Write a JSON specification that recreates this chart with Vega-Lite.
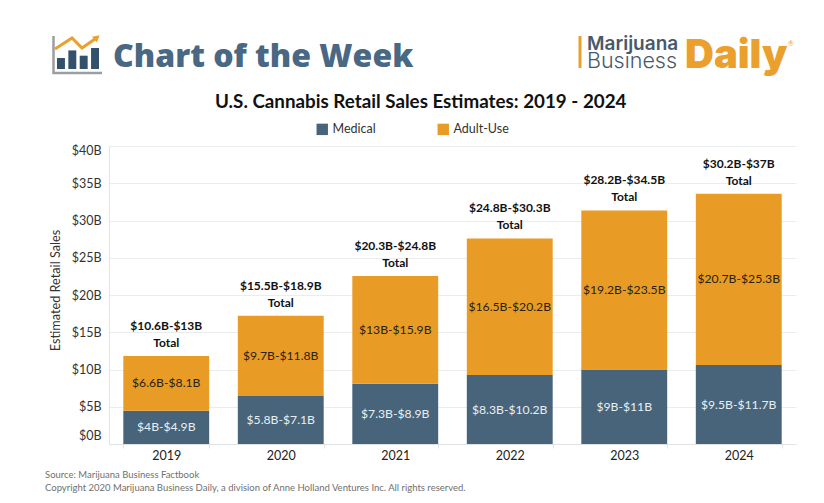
{
  "$schema": "https://vega.github.io/schema/vega-lite/v6.json",
  "width": 687,
  "height": 298,
  "autosize": {"type": "none"},
  "padding": {"left": 109, "top": 146, "right": 28, "bottom": 59},
  "background": "white",
  "config": {"font": "Lato", "view": {"stroke": null}},
  "title": {
    "text": "U.S. Cannabis Retail Sales Estimates: 2019 - 2024",
    "anchor": "start",
    "frame": "group",
    "dx": 106,
    "offset": -82,
    "font": "Lato",
    "fontSize": 18.8,
    "fontWeight": "bold",
    "color": "#111111"
  },
  "datasets": {
    "sales": [
      {"year": "2019", "type": "Medical", "midpoint": 4.45, "range": "$4B-$4.9B"},
      {"year": "2019", "type": "Adult-Use", "midpoint": 7.35, "range": "$6.6B-$8.1B"},
      {"year": "2020", "type": "Medical", "midpoint": 6.45, "range": "$5.8B-$7.1B"},
      {"year": "2020", "type": "Adult-Use", "midpoint": 10.75, "range": "$9.7B-$11.8B"},
      {"year": "2021", "type": "Medical", "midpoint": 8.1, "range": "$7.3B-$8.9B"},
      {"year": "2021", "type": "Adult-Use", "midpoint": 14.45, "range": "$13B-$15.9B"},
      {"year": "2022", "type": "Medical", "midpoint": 9.25, "range": "$8.3B-$10.2B"},
      {"year": "2022", "type": "Adult-Use", "midpoint": 18.35, "range": "$16.5B-$20.2B"},
      {"year": "2023", "type": "Medical", "midpoint": 10, "range": "$9B-$11B"},
      {"year": "2023", "type": "Adult-Use", "midpoint": 21.35, "range": "$19.2B-$23.5B"},
      {"year": "2024", "type": "Medical", "midpoint": 10.6, "range": "$9.5B-$11.7B"},
      {"year": "2024", "type": "Adult-Use", "midpoint": 23, "range": "$20.7B-$25.3B"}
    ],
    "totals": [
      {"year": "2019", "total": 11.8, "range": "$10.6B-$13B\nTotal"},
      {"year": "2020", "total": 17.2, "range": "$15.5B-$18.9B\nTotal"},
      {"year": "2021", "total": 22.55, "range": "$20.3B-$24.8B\nTotal"},
      {"year": "2022", "total": 27.6, "range": "$24.8B-$30.3B\nTotal"},
      {"year": "2023", "total": 31.35, "range": "$28.2B-$34.5B\nTotal"},
      {"year": "2024", "total": 33.6, "range": "$30.2B-$37B\nTotal"}
    ],
    "iconBars": [
      {"bar": "a", "height": 11},
      {"bar": "b", "height": 18.6},
      {"bar": "c", "height": 13.3},
      {"bar": "d", "height": 21}
    ],
    "iconArrow": [
      {"step": 2, "level": 24},
      {"step": 19, "level": 35},
      {"step": 29, "level": 25},
      {"step": 42, "level": 34}
    ],
    "iconArrowHead": [
      {"step": 44, "level": 35.5}
    ],
    "iconFrame": [
      {"step": 0.5, "level": 37},
      {"step": 0.5, "level": 0},
      {"step": 49, "level": 0}
    ],
    "logoBar": [
      {"level": 0},
      {"level": 1}
    ]
  },
  "layer": [
    {
      "data": {"name": "sales"},
      "encoding": {
        "x": {
          "field": "year",
          "type": "nominal",
          "title": null,
          "scale": {"paddingInner": 0.25, "paddingOuter": 0.125},
          "axis": {
            "labelAngle": 0,
            "labelFontSize": 12.5,
            "labelColor": "#222222",
            "labelPadding": 1,
            "tickBand": "extent",
            "tickSize": 4,
            "tickColor": "#dfe3e6",
            "domainColor": "#dfe3e6",
            "grid": false
          }
        },
        "y": {
          "field": "midpoint",
          "type": "quantitative",
          "title": "Estimated Retail Sales",
          "stack": "zero",
          "scale": {"domain": [0, 40], "nice": false},
          "axis": {
            "values": [0, 5, 10, 15, 20, 25, 30, 35, 40],
            "labelExpr": "'$' + datum.value + 'B'",
            "labelFontSize": 12.5,
            "labelColor": "#333333",
            "labelPadding": 8,
            "labelOffset": {
              "condition": [
                {"test": "datum.value === 0", "value": -9},
                {"test": "datum.value === 40", "value": 4}
              ],
              "value": 0
            },
            "ticks": false,
            "domainColor": "#dce6ea",
            "gridColor": "#e9edef",
            "titleFontSize": 12.7,
            "titleFontWeight": "normal",
            "titleColor": "#333333",
            "titleX": -47,
            "titleY": 144
          }
        }
      },
      "layer": [
        {
          "mark": {"type": "bar"},
          "encoding": {
            "order": {"field": "type", "sort": "descending"},
            "color": {
              "field": "type",
              "type": "nominal",
              "scale": {"domain": ["Medical", "Adult-Use"], "range": ["#47647a", "#e89c26"]},
              "legend": {
                "title": null,
                "orient": "none",
                "direction": "horizontal",
                "legendX": 207,
                "legendY": -23,
                "symbolType": "square",
                "symbolSize": 130,
                "symbolStrokeWidth": 0,
                "symbolOpacity": 1,
                "labelFontSize": 12.5,
                "labelColor": "#333333",
                "columnPadding": 61
              }
            }
          }
        },
        {
          "mark": {"type": "text", "fontSize": 12.2},
          "encoding": {
            "y": {"field": "midpoint", "type": "quantitative", "stack": "zero", "bandPosition": 0.5},
            "order": {"field": "type", "sort": "descending"},
            "detail": {"field": "type"},
            "text": {"field": "range"},
            "color": {
              "condition": {"test": "datum.type === 'Medical'", "value": "#e8eef2"},
              "value": "#2a2210"
            }
          }
        },
        {
          "data": {"name": "totals"},
          "mark": {
            "type": "text",
            "fontSize": 12,
            "fontWeight": "bold",
            "color": "#111111",
            "lineBreak": "\n",
            "lineHeight": 17,
            "baseline": "bottom",
            "dy": -23
          },
          "encoding": {
            "y": {"field": "total", "type": "quantitative", "stack": null},
            "text": {"field": "range"}
          }
        }
      ]
    },
    {
      "data": {"name": "iconBars"},
      "mark": {"type": "bar", "color": "#34516c"},
      "encoding": {
        "x": {
          "field": "bar",
          "type": "nominal",
          "axis": null,
          "scale": {"range": [-52, -10], "paddingInner": 0.3, "paddingOuter": 0}
        },
        "y": {
          "field": "height",
          "type": "quantitative",
          "axis": null,
          "scale": {"domain": [0, 21], "nice": false, "range": [-77, -98]}
        }
      }
    },
    {
      "data": {"name": "iconFrame"},
      "mark": {"type": "line", "color": "#9a9fa3", "strokeWidth": 2.5},
      "encoding": {
        "order": {"field": "step"},
        "x": {"field": "step", "type": "quantitative", "axis": null, "scale": {"domain": [0, 49], "nice": false, "zero": false, "range": [-56, -7]}},
        "y": {"field": "level", "type": "quantitative", "axis": null, "scale": {"domain": [0, 37], "nice": false, "range": [-73, -110]}}
      }
    },
    {
      "data": {"name": "iconArrow"},
      "mark": {"type": "line", "color": "#eba02d", "strokeWidth": 3},
      "encoding": {
        "x": {"field": "step", "type": "quantitative", "axis": null, "scale": {"domain": [0, 49], "nice": false, "zero": false, "range": [-56, -7]}},
        "y": {"field": "level", "type": "quantitative", "axis": null, "scale": {"domain": [0, 37], "nice": false, "range": [-73, -110]}}
      }
    },
    {
      "data": {"name": "iconArrowHead"},
      "mark": {"type": "point", "shape": "triangle-up", "filled": true, "opacity": 1, "color": "#eba02d", "size": 60, "angle": 50},
      "encoding": {
        "x": {"field": "step", "type": "quantitative", "axis": null, "scale": {"domain": [0, 49], "nice": false, "zero": false, "range": [-56, -7]}},
        "y": {"field": "level", "type": "quantitative", "axis": null, "scale": {"domain": [0, 37], "nice": false, "range": [-73, -110]}}
      }
    },
    {
      "data": {"name": "logoBar"},
      "mark": {"type": "line", "color": "#eba02d", "strokeWidth": 3},
      "encoding": {
        "x": {"datum": 0, "type": "quantitative", "axis": null, "scale": {"domain": [0, 1], "range": [471, 472]}},
        "y": {"field": "level", "type": "quantitative", "axis": null, "scale": {"domain": [0, 1], "nice": false, "range": [-78, -110]}}
      }
    },
    {
      "data": {"values": [{"text": "Chart of the Week"}]},
      "mark": {"type": "text", "x": 4, "y": -79, "align": "left", "baseline": "alphabetic", "font": "Open Sans", "fontWeight": 800, "fontSize": 32, "color": "#486883"},
      "encoding": {"text": {"field": "text"}}
    },
    {
      "data": {"values": [{"text": "Marijuana"}]},
      "mark": {"type": "text", "x": 478, "y": -96, "align": "left", "baseline": "alphabetic", "font": "Inter", "fontWeight": 600, "fontSize": 19, "color": "#47596b"},
      "encoding": {"text": {"field": "text"}}
    },
    {
      "data": {"values": [{"text": "Business"}]},
      "mark": {"type": "text", "x": 478, "y": -78, "align": "left", "baseline": "alphabetic", "font": "Inter", "fontWeight": 300, "fontSize": 21.5, "color": "#47596b"},
      "encoding": {"text": {"field": "text"}}
    },
    {
      "data": {"values": [{"text": "Daily"}]},
      "mark": {"type": "text", "x": 576, "y": -78, "align": "left", "baseline": "alphabetic", "font": "Inter", "fontWeight": 900, "fontSize": 40, "color": "#eba02d"},
      "encoding": {"text": {"field": "text"}}
    },
    {
      "data": {"values": [{"text": "®"}]},
      "mark": {"type": "text", "x": 679, "y": -100, "align": "left", "baseline": "alphabetic", "fontSize": 7, "color": "#eba02d"},
      "encoding": {"text": {"field": "text"}}
    },
    {
      "data": {"values": [{"text": "Source: Marijuana Business Factbook"}]},
      "mark": {"type": "text", "x": -64, "y": 332, "align": "left", "baseline": "alphabetic", "fontSize": 9.5, "color": "#707070"},
      "encoding": {"text": {"field": "text"}}
    },
    {
      "data": {"values": [{"text": "Copyright 2020 Marijuana Business Daily, a division of Anne Holland Ventures Inc. All rights reserved."}]},
      "mark": {"type": "text", "x": -64, "y": 345, "align": "left", "baseline": "alphabetic", "fontSize": 9.5, "color": "#707070"},
      "encoding": {"text": {"field": "text"}}
    }
  ],
  "resolve": {"scale": {"x": "independent", "y": "independent"}}
}
